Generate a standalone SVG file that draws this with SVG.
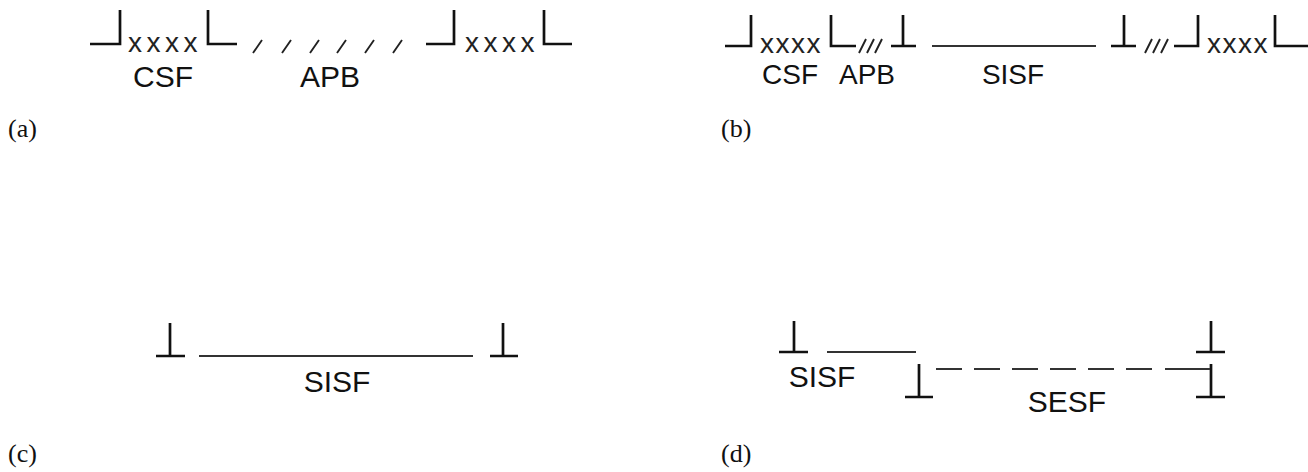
<svg xmlns="http://www.w3.org/2000/svg" width="1308" height="472" viewBox="0 0 1308 472">
<style>
.b{fill:none;stroke:#111;stroke-width:2.7;stroke-linecap:butt;stroke-linejoin:miter}
.s{fill:none;stroke:#222;stroke-width:1.9}
.l{fill:none;stroke:#333;stroke-width:2}
.t{font-family:"Liberation Sans",Arial,sans-serif;fill:#111;text-anchor:middle}
.x{font-family:"Liberation Sans",Arial,sans-serif;fill:#222;font-size:28px}
.p{font-family:"Liberation Serif","Times New Roman",serif;fill:#111;font-size:26px}
</style>
<rect width="1308" height="472" fill="#fff"/>
<g id="panel-a">
  <path class="b" d="M90,44 H120 V10 M208,10 V44 H237 M426,44 H454 V10 M544,10 V44 H572"/>
  <text class="x" x="128" y="52" letter-spacing="4.5">xxxx</text>
  <text class="x" x="465" y="52" letter-spacing="4.5">xxxx</text>
  <path class="s" d="M253,53 L262,40 M282,53 L291,40 M310,53 L319,40 M337,53 L346,40 M365,53 L374,40 M393,53 L402,40"/>
  <text class="t" x="163" y="87" font-size="30">CSF</text>
  <text class="t" x="330" y="87" font-size="30">APB</text>
  <text class="p" x="8" y="137">(a)</text>
</g>
<g id="panel-b">
  <path class="b" d="M725,46 H751 V15 M831,15 V46 H856 M891,46 H916 M903,46 V15 M1111,46 H1136 M1124,46 V15 M1174,46 H1198 V15 M1275,15 V46 H1310"/>
  <text class="x" x="760" y="53" letter-spacing="1.5">xxxx</text>
  <text class="x" x="1207" y="53" letter-spacing="1.5">xxxx</text>
  <path class="s" d="M859,53 L866,39 M867,53 L874,39 M875,53 L882,39 M1145,53 L1152,39 M1153,53 L1160,39 M1161,53 L1168,39"/>
  <path class="l" d="M932,46 H1096"/>
  <text class="t" x="790" y="84" font-size="28">CSF</text>
  <text class="t" x="867" y="84" font-size="28">APB</text>
  <text class="t" x="1013" y="84" font-size="28">SISF</text>
  <text class="p" x="721" y="137">(b)</text>
</g>
<g id="panel-c">
  <path class="b" d="M156,356 H185 M170,356 V323 M490,356 H518 M503,356 V323"/>
  <path class="l" d="M199,356 H473"/>
  <text class="t" x="337" y="392" font-size="30">SISF</text>
  <text class="p" x="8" y="462">(c)</text>
</g>
<g id="panel-d">
  <path class="b" d="M779,352 H808 M794,352 V321 M905,397 H933 M919,397 V364 M1196,352 H1225 M1211,352 V321 M1196,397 H1225 M1211,397 V364"/>
  <path class="l" d="M827,352 H916"/>
  <path class="l" d="M936,369 H962 M974,369 H1000 M1012,369 H1038 M1050,369 H1076 M1088,369 H1114 M1126,369 H1152 M1165,369 H1210"/>
  <text class="t" x="822" y="387" font-size="30">SISF</text>
  <text class="t" x="1067" y="412" font-size="30">SESF</text>
  <text class="p" x="721" y="462">(d)</text>
</g>
</svg>
